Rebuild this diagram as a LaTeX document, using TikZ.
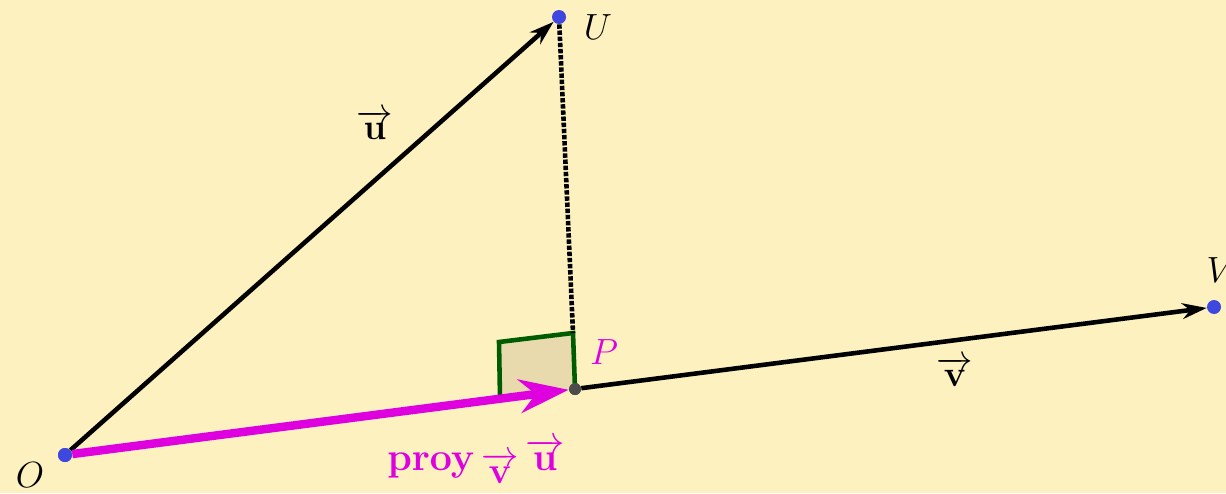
\documentclass[tikz,border=0pt]{standalone}
\usepackage{amsmath,amssymb}
\usepackage{tikz}
\usetikzlibrary{arrows.meta,positioning,calc}
\definecolor{fondo}{RGB}{253,241,192}
\definecolor{punto}{RGB}{62,72,222}
\definecolor{proyc}{RGB}{222,0,222}
\definecolor{verde}{RGB}{0,92,0}
\definecolor{relleno}{RGB}{232,218,172}

\begin{document}
\begin{tikzpicture}[
    pt/.style={circle, fill=punto, inner sep=0pt, minimum size=0.28cm},
    vec/.style={-{Stealth[length=14pt,width=9pt]}, line width=2.6pt},
    proyv/.style={-{Stealth[length=28pt,width=19pt]}, line width=4.8pt, proyc},
    lbl/.style={font=\huge}
]
\fill[fondo] (0,0) rectangle (24.52,9.86);
\useasboundingbox (0,0) rectangle (24.52,9.86);

% puntos
\node[pt] (O) at (1.30,0.76) {};
\node[pt] (U) at (11.18,9.52) {};
\node[pt] (V) at (24.28,3.72) {};
\node[pt, fill=black!70, minimum size=0.24cm] (P) at (11.50,2.08) {};
\coordinate (c1) at (11.46,3.20);
\coordinate (c2) at (9.98,3.02);
\coordinate (c3) at (10.00,1.90);

% angulo recto
\draw[verde, line width=2.6pt, fill=relleno] (c3) -- (c2) -- (c1) -- (P.center);
\draw[line width=2.6pt, dash pattern=on 2.5pt off 1pt] (U) -- (c1);

% vectores
\draw[vec] (O) -- (U);
\draw[vec] (P) -- (V);
\draw[proyv] (O) -- (P);
\node[pt, fill=black!70, minimum size=0.24cm] at (P) {};
\node[pt] at (O) {};

% etiquetas
\node[lbl] (lO) at (0.60,0.36) {$O$};
\node[lbl] (lU) at (11.96,9.32) {$U$};
\node[lbl] (lV) at (24.42,4.46) {$V$};
\node[lbl, text=proyc] (lproyP) at (12.08,2.82) {$P$};
\node[lbl] (lu) at (7.50,7.36) {$\overrightarrow{\mathbf{u}}$};
\node[lbl] (lv) at (19.10,2.42) {$\overrightarrow{\mathbf{v}}$};
\node[lbl, text=proyc] (lproy) at (9.52,0.64) {\scalebox{1.08}{$\mathbf{proy}\,\raisebox{-0.32em}{\scalebox{0.95}{$\overrightarrow{\mathbf{v}}$}}\,\overrightarrow{\mathbf{u}}$}};
\end{tikzpicture}
\end{document}
